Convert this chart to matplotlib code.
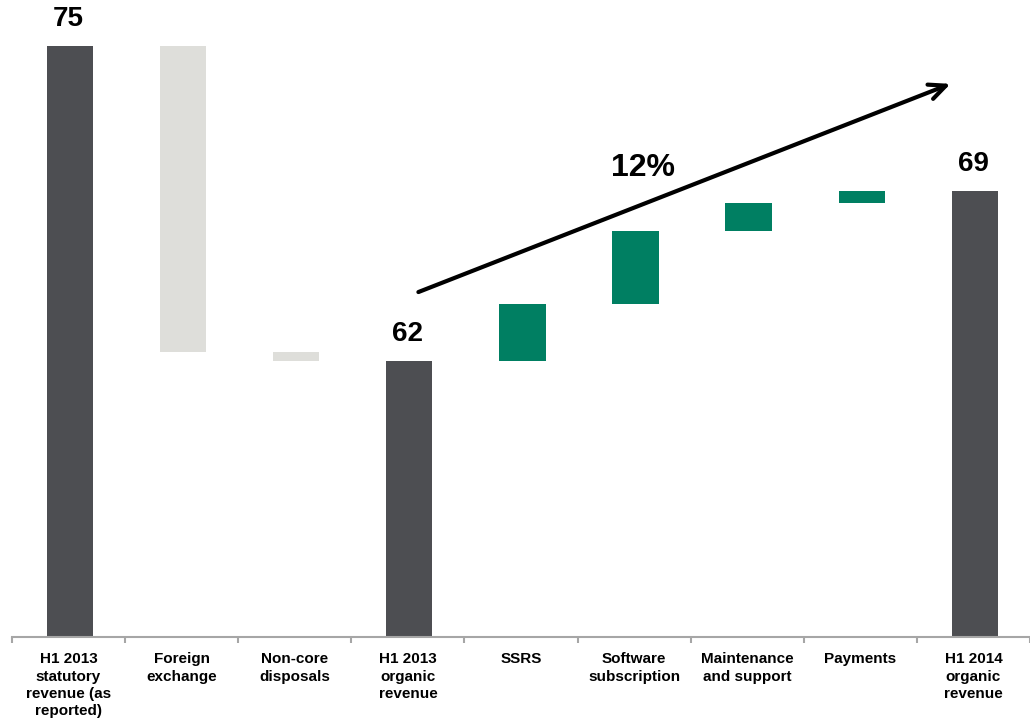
import numpy as np
import matplotlib.pyplot as plt

plt.rcParams['font.family'] = ['Liberation Sans', 'DejaVu Sans']

categories = ['H1 2013\nstatutory\nrevenue (as\nreported)', 'Foreign\nexchange',
              'Non-core\ndisposals', 'H1 2013\norganic\nrevenue', 'SSRS',
              'Software\nsubscription', 'Maintenance\nand support', 'Payments',
              'H1 2014\norganic\nrevenue']
# totals are drawn from zero, steps float between running totals
kinds = ['total', 'down', 'down', 'total', 'up', 'up', 'up', 'up', 'total']
values = [75, -12.63, -0.37, 62, 2.35, 3.0, 1.17, 0.48, 69]
total_labels = ['75', None, None, '62', None, None, None, None, '69']
growth_label = '12%'

dark = '#4d4e52'
light = '#dededa'
green = '#007f62'

fig = plt.figure(figsize=(10.30, 7.19), dpi=100)
ax = fig.add_axes([12 / 1030, 82 / 719, 1018 / 1030, 637 / 719])

x = np.arange(len(categories))
running = 0
for i, (kind, v) in enumerate(zip(kinds, values)):
    if kind == 'total':
        bottom, height, color = 0, v, dark
        running = v
    else:
        start = running
        running = running + v
        bottom, height = min(start, running), abs(v)
        color = green if kind == 'up' else light
    ax.bar(x[i] + 0.012, height, bottom=bottom, width=0.41, color=color, linewidth=0)
    if total_labels[i]:
        ax.annotate(total_labels[i], (x[i], v), xytext=(0, 10), textcoords='offset points',
                    ha='center', va='bottom', fontsize=20, fontweight='bold')

ax.set_xlim(-0.5, len(categories) - 0.5)
ax.set_ylim(50.6, 76.9)

# growth arrow across the organic bridge
ax.annotate('', xy=(7.82, 73.48), xytext=(3.07, 64.8),
            arrowprops=dict(arrowstyle='->,head_length=1.2,head_width=0.55',
                            color='black', lw=3))
ax.text(5.08, 69.98, growth_label, ha='center', va='center', fontsize=23, fontweight='bold')

for side in ['top', 'right', 'left']:
    ax.spines[side].set_visible(False)
ax.spines['bottom'].set_color('#a6a6a6')
ax.spines['bottom'].set_linewidth(1.5)
ax.set_yticks([])

ax.set_xticks(x)
ax.set_xticklabels(categories, fontsize=11, fontweight='bold', linespacing=1.3, va='top')
ax.tick_params(axis='x', which='major', length=0, pad=11)
ax.set_xticks(np.arange(len(categories) + 1) - 0.5, minor=True)
ax.tick_params(axis='x', which='minor', length=4, width=1.5, color='#a6a6a6')

fig.savefig('out.png', dpi=100)
